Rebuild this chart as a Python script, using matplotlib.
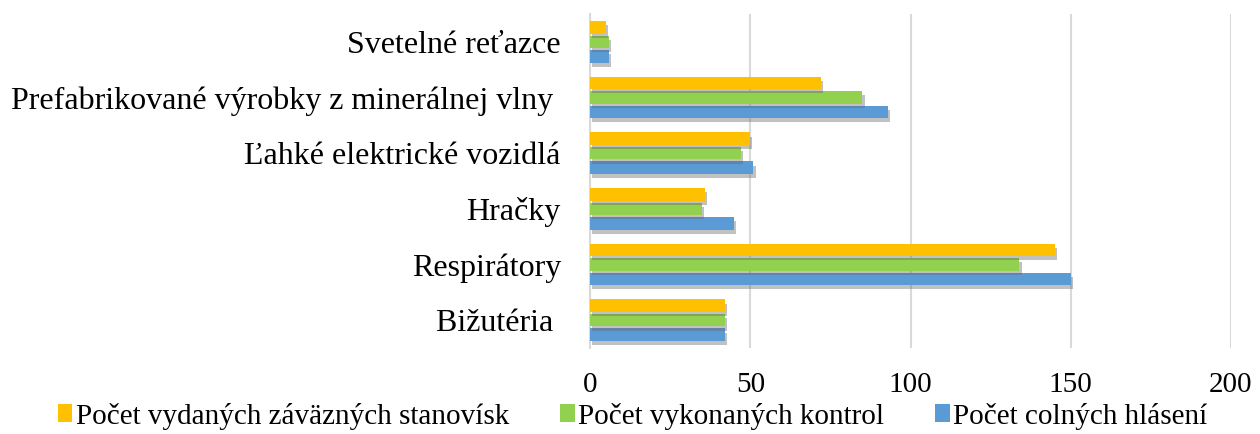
# Colné hlásenia / kontroly / stanoviská - horizontal grouped bars
import numpy as np
import matplotlib.pyplot as plt
import matplotlib.patheffects as pe
from matplotlib.patches import Patch

# region data
categories = ['Bižutéria ', 'Respirátory', 'Hračky', 'Ľahké elektrické vozidlá',
              'Prefabrikované výrobky z minerálnej vlny ', 'Svetelné reťazce']
colne_hlasenia = [42, 150, 45, 51, 93, 6]
vykonane_kontroly = [42, 134, 35, 47, 85, 6]
zavazne_stanoviska = [42, 145, 36, 50, 72, 5]
series_names = ['Počet colných hlásení', 'Počet vykonaných kontrol',
                'Počet vydaných záväzných stanovísk']
x_ticks = [0, 50, 100, 150, 200]
# endregion

plt.rcParams['font.family'] = ['Liberation Serif', 'DejaVu Serif']

fig = plt.figure(figsize=(12.6, 4.34), dpi=100)
ax = fig.add_axes([590 / 1260, 1 - 348 / 434, 641 / 1260, 334 / 434])

y = np.arange(len(categories))
h = 0.225
step = 0.26
colors = ['#5B9BD5', '#92D050', '#FFC000']
shadow = [pe.SimplePatchShadow(offset=(1.5, -3), shadow_rgbFace='#666666', alpha=0.4),
          pe.Normal()]

for i, (vals, col, name) in enumerate(zip([colne_hlasenia, vykonane_kontroly, zavazne_stanoviska],
                                         colors, series_names)):
    b = ax.barh(y + (i - 1) * step, vals, height=h, color=col, label=name, zorder=3)
    for p in b:
        p.set_path_effects(shadow)

ax.set_xlim(0, 200)
ax.set_ylim(-0.5, len(categories) - 0.5)
ax.set_xticks(x_ticks)
ax.set_yticks(y)
ax.set_yticklabels(categories, fontsize=23)
ax.tick_params(axis='both', length=0, colors='black')
ax.tick_params(axis='x', pad=17, labelsize=21)
ax.tick_params(axis='y', pad=21)

ax.grid(axis='x', color='#D9D9D9', linewidth=1.5, zorder=0)
for s in ['top', 'right', 'bottom']:
    ax.spines[s].set_visible(False)
ax.spines['left'].set_color('#D9D9D9')
ax.spines['left'].set_linewidth(1.5)

# legend: reversed order, plain squares (no shadow)
handles = [Patch(facecolor=c) for c in colors[::-1]]
fig.legend(handles, series_names[::-1], loc='center left',
           bbox_to_anchor=(43 / 1260, 1 - 416 / 434), ncol=3, frameon=False,
           fontsize=21, borderpad=0, handlelength=0.5, handleheight=0.55,
           handletextpad=0.12, columnspacing=1.75)

fig.savefig('out.png', dpi=100)
